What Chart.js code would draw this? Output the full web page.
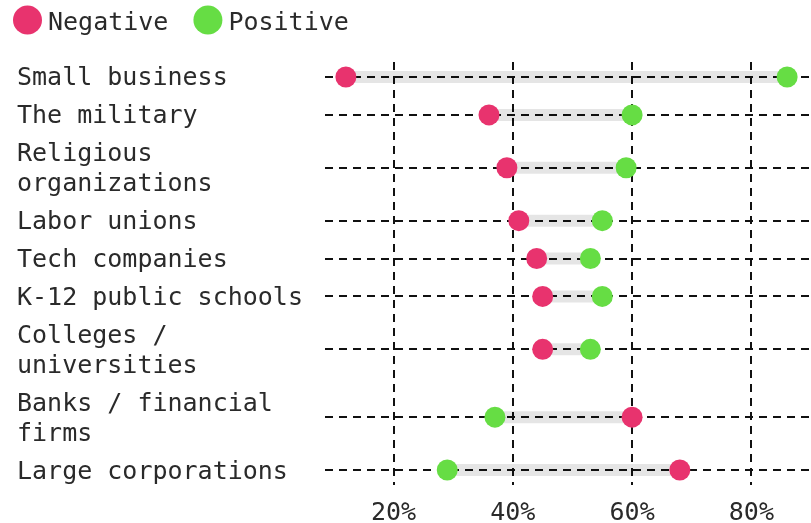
<!DOCTYPE html>
<html><head><meta charset="utf-8">
<script src="https://cdn.jsdelivr.net/npm/chart.js@4"></script>
<style>html,body{margin:0;padding:0;background:#fff;}</style>
</head><body>
<canvas id="c" width="811" height="523"></canvas>
<script>
// ---- data ----
const categories = [
  ["Small business"],
  ["The military"],
  ["Religious", "organizations"],
  ["Labor unions"],
  ["Tech companies"],
  ["K-12 public schools"],
  ["Colleges /", "universities"],
  ["Banks / financial", "firms"],
  ["Large corporations"]
];
const negativeValues = [12, 36, 39, 41, 44, 45, 45, 60, 68];
const positiveValues = [86, 60, 59, 55, 53, 55, 53, 37, 29];
const seriesNames = ["Negative", "Positive"];
const xTickValues = [20, 40, 60, 80];

// ---- style ----
const PINK = '#e8336e';
const GREEN = '#66dd44';
const TEXT = '#2a2a2a';
const FONT_FAMILY = '"DejaVu Sans Mono", monospace';
const FONT_SIZE = 25;
const LINE_H = 30;      // px per label line
const ROW_PAD = 8;      // extra px per row

// row centres derived from label line counts
const rowCenters = [];
let acc = 0;
categories.forEach(lines => {
  const h = ROW_PAD + LINE_H * lines.length;
  rowCenters.push(acc + h / 2);
  acc += h;
});
const totalRows = acc;

const bandData = [];
categories.forEach((_, i) => {
  bandData.push({x: negativeValues[i], y: rowCenters[i]});
  bandData.push({x: positiveValues[i], y: rowCenters[i]});
  bandData.push({x: null, y: null});
});

const dotLegend = {
  id: 'dotLegend',
  afterDraw(chart) {
    const ctx = chart.ctx;
    ctx.save();
    ctx.font = FONT_SIZE + 'px ' + FONT_FAMILY;
    ctx.textBaseline = 'middle';
    ctx.textAlign = 'left';
    const colors = [PINK, GREEN];
    let x = 13;
    const y = 20;
    seriesNames.forEach((name, i) => {
      ctx.fillStyle = colors[i];
      ctx.beginPath();
      ctx.arc(x + 14.5, y, 14.5, 0, Math.PI * 2);
      ctx.fill();
      ctx.fillStyle = TEXT;
      ctx.fillText(name, x + 35, y + 3);
      x += 35 + ctx.measureText(name).width + 25;
    });
    ctx.restore();
  }
};

const gridCommon = {color: '#111', lineWidth: 2, drawTicks: false, borderDash: [8, 6]};
const borderCommon = {display: false, dash: [8, 6]};
const tickFont = {family: FONT_FAMILY, size: FONT_SIZE, lineHeight: LINE_H / FONT_SIZE};

new Chart(document.getElementById('c'), {
  type: 'scatter',
  data: {
    datasets: [
      {
        label: 'range',
        data: bandData,
        showLine: true,
        spanGaps: false,
        borderColor: 'rgba(0,0,0,0.1)',
        borderWidth: 12,
        borderCapStyle: 'butt',
        pointRadius: 0,
        pointHoverRadius: 0,
        order: 3
      },
      {
        label: seriesNames[0],
        data: negativeValues.map((v, i) => ({x: v, y: rowCenters[i]})),
        backgroundColor: PINK,
        borderWidth: 0,
        pointRadius: 10.5,
        pointHoverRadius: 10.5,
        order: 1
      },
      {
        label: seriesNames[1],
        data: positiveValues.map((v, i) => ({x: v, y: rowCenters[i]})),
        backgroundColor: GREEN,
        borderWidth: 0,
        pointRadius: 10.5,
        pointHoverRadius: 10.5,
        order: 2
      }
    ]
  },
  options: {
    responsive: false,
    animation: false,
    devicePixelRatio: 1,
    layout: {autoPadding: false, padding: {top: 62, left: 17, right: 0, bottom: 0}},
    plugins: {legend: {display: false}, tooltip: {enabled: false}},
    scales: {
      x: {
        type: 'linear',
        min: 8.5,
        max: 90,
        afterBuildTicks: s => { s.ticks = xTickValues.map(v => ({value: v})); },
        afterFit: s => { s.height = 38; s.paddingLeft = 0; s.paddingRight = 0; },
        ticks: {
          callback: v => v + '%',
          padding: 16,
          autoSkip: false,
          maxRotation: 0,
          color: TEXT,
          font: {family: FONT_FAMILY, size: FONT_SIZE, lineHeight: 1}
        },
        grid: gridCommon,
        border: borderCommon
      },
      y: {
        type: 'linear',
        reverse: true,
        min: 4,
        max: totalRows - 4,
        afterBuildTicks: s => { s.ticks = rowCenters.map(v => ({value: v})); },
        afterFit: s => { s.width = 308; s.paddingTop = 0; s.paddingBottom = 0; },
        ticks: {
          callback: (v, i) => categories[i],
          crossAlign: 'far',
          padding: 22,
          labelOffset: 2,
          autoSkip: false,
          color: TEXT,
          font: tickFont
        },
        grid: gridCommon,
        border: borderCommon
      }
    }
  },
  plugins: [dotLegend]
});
</script>
</body></html>
